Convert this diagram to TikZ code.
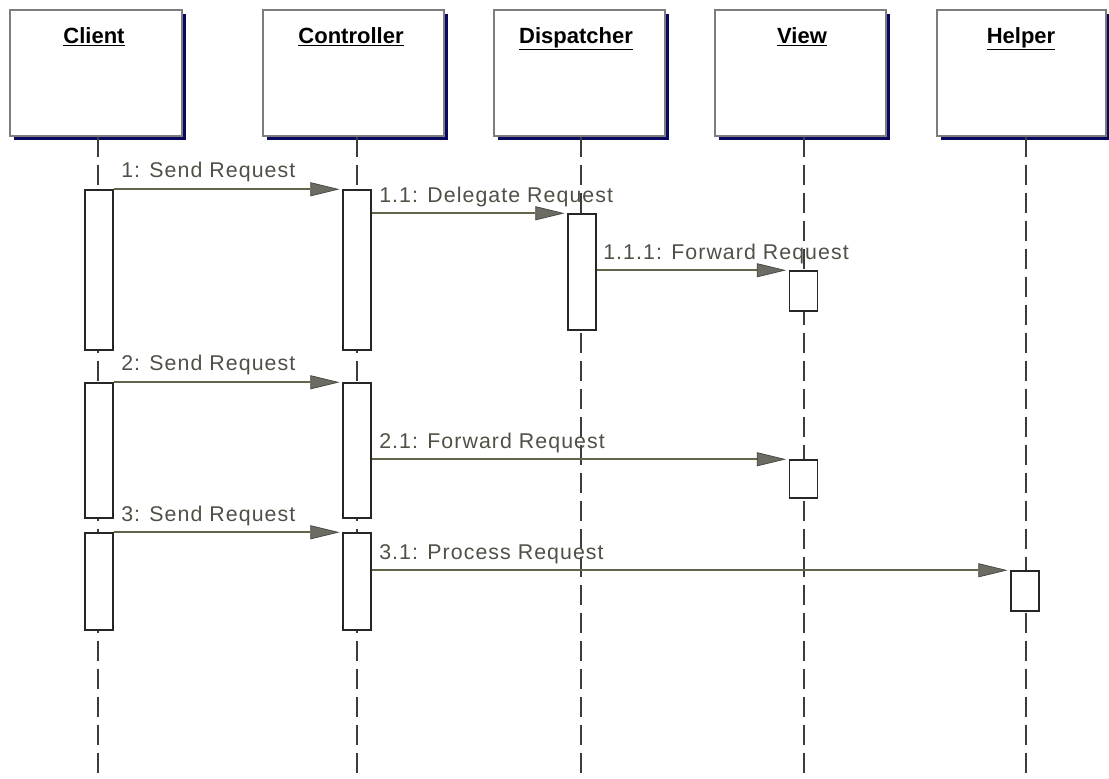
\documentclass[tikz,border=0pt]{standalone}
\usepackage{fontspec}
\setmainfont{Liberation Sans}
\newfontfamily\lblfont[LetterSpace=5]{Liberation Sans}
\usetikzlibrary{arrows.meta,shadows}
\definecolor{navyshadow}{RGB}{8,8,96}
\definecolor{boxgray}{RGB}{125,125,125}
\definecolor{msgline}{RGB}{100,100,75}
\definecolor{headfill}{RGB}{108,108,100}
\definecolor{headdraw}{RGB}{75,75,68}
\definecolor{lbltext}{RGB}{80,80,70}
\definecolor{lifegray}{RGB}{60,60,60}
\begin{document}
\begin{tikzpicture}[x=0.75pt,y=-0.75pt,
  hdrbox/.style={draw=boxgray, line width=1.1pt, fill=white, inner sep=0pt,
    minimum height=94.5pt,
    drop shadow={shadow xshift=3pt, shadow yshift=-3pt, fill=navyshadow, opacity=1}},
  hdrtext/.style={inner sep=0pt, anchor=base, font=\fontsize{16.5pt}{19pt}\selectfont\bfseries, text=black},
  act/.style={draw=black!85, line width=1.1pt, fill=white, inner sep=0pt, minimum width=21pt},
  life/.style={draw=lifegray, line width=1.5pt, dash pattern=on 15pt off 6pt},
  msg/.style={draw=msgline, line width=1.3pt, shorten >=2pt,
    -{Triangle[length=22pt,width=10.5pt,fill=headfill,color=headdraw,line width=0.6pt]}},
  lbl/.style={inner sep=0pt, anchor=base west, text=lbltext, font=\lblfont\fontsize{16pt}{19pt}\selectfont}
]
\useasboundingbox (0,0) rectangle (1109,778);

% lifeline x positions
\coordinate (xcl) at (98,778);
\coordinate (xco) at (357,778);
\coordinate (xdi) at (581,778);
\coordinate (xvi) at (804,778);
\coordinate (xhe) at (1026,778);

% header boxes
\node[hdrbox, minimum width=129pt]    (client) at (96,73) {};
\node[hdrbox, minimum width=135.75pt] (contr)  at (353.5,73) {};
\node[hdrbox, minimum width=128.25pt] (disp)   at (579.5,73) {};
\node[hdrbox, minimum width=128.25pt] (view)   at (800.5,73) {};
\node[hdrbox, minimum width=126.75pt] (helper) at (1021.5,73) {};

\node[hdrtext] (tcl) at (94,43) {\underline{Client}};
\node[hdrtext] (tco) at (351,43) {\underline{Controller}};
\node[hdrtext] (tdi) at (576,43) {\underline{Dispatcher}};
\node[hdrtext] (tvi) at (802,43) {\underline{View}};
\node[hdrtext] (the) at (1021,43) {\underline{Helper}};

% lifelines
\draw[life] (client.south -| xcl) -- (xcl);
\draw[life] (contr.south -| xco) -- (xco);
\draw[life] (disp.south -| xdi) -- (xdi);
\draw[life] (view.south -| xvi) -- (xvi);
\draw[life] (helper.south -| xhe) -- (xhe);

% activations
\node[act, minimum height=120pt]   (ca1) at (99,270) {};
\node[act, minimum height=101.25pt] (ca2) at (99,450.5) {};
\node[act, minimum height=72.75pt] (ca3) at (99,581.5) {};
\node[act, minimum height=120pt]   (ka1) at (357,270) {};
\node[act, minimum height=101.25pt] (ka2) at (357,450.5) {};
\node[act, minimum height=72.75pt] (ka3) at (357,581.5) {};
\node[act, minimum height=87pt]    (d1)  at (582,272) {};
\node[act, minimum height=30pt]    (v1)  at (803.5,291) {};
\node[act, minimum height=28.5pt]  (v2)  at (803.5,479) {};
\node[act, minimum height=30pt]    (h1)  at (1025,591) {};

% messages
\draw[msg] (ca1.north east) -- (ka1.north west);
\draw[msg] (ka1.east |- d1.north) -- (d1.north west);
\draw[msg] (d1.east |- v1.north) -- (v1.north west);
\draw[msg] (ca2.north east) -- (ka2.north west);
\draw[msg] (ka2.east |- v2.north) -- (v2.north west);
\draw[msg] (ca3.north east) -- (ka3.north west);
\draw[msg] (ka3.east |- h1.north) -- (h1.north west);

% labels
\node[lbl] (m1)   at (121,177) {1: Send Request};
\node[lbl] (m11)  at (379,202) {1.1: Delegate Request};
\node[lbl] (m111) at (603,259) {1.1.1: Forward Request};
\node[lbl] (m2)   at (121,370) {2: Send Request};
\node[lbl] (m21)  at (379,448) {2.1: Forward Request};
\node[lbl] (m3)   at (121,521) {3: Send Request};
\node[lbl] (m31)  at (379,559) {3.1: Process Request};
\end{tikzpicture}
\end{document}
